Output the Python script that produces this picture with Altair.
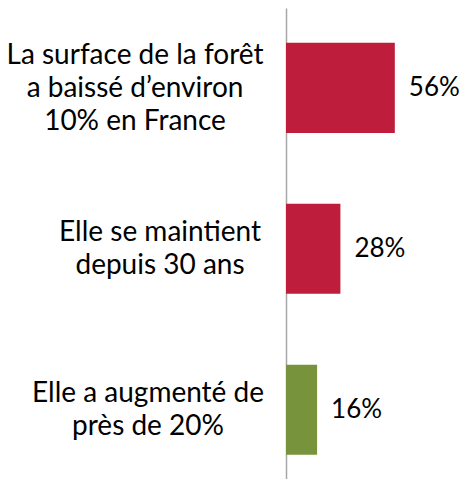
import altair as alt
import pandas as pd

categories = ["La surface de la forêt|a baissé d’environ|10% en France",
              "Elle se maintient|depuis 30 ans",
              "Elle a augmenté de|près de 20%"]
values = [56, 28, 16]
value_labels = ["56%", "28%", "16%"]
colors = ["#BE1E3C", "#BE1E3C", "#77933C"]
label_centers = [-151, -126, -138]  # horizontal centre of each label block relative to axis

df = pd.DataFrame({
    "cat": categories,
    "value": values,
    "label": value_labels,
    "color": colors,
})

FONT = "Lato"
FS = 28
LH = 33
y = alt.Y("cat:N", sort=categories, title=None,
          scale=alt.Scale(paddingInner=0.44, paddingOuter=0.183, align=0.59),
          axis=alt.Axis(labels=False, ticks=False, domain=True,
                        domainColor="#A6A6A6", domainWidth=1.5, grid=False))
x = alt.X("value:Q", title=None, scale=alt.Scale(domain=[0, 88]), axis=None)

bars = alt.Chart(df).mark_bar().encode(
    x=x, y=y, color=alt.Color("color:N", scale=None)
)
vals = alt.Chart(df).mark_text(align="left", baseline="middle", dx=14,
                               font=FONT, fontSize=26, color="#000000").encode(
    x=x, y=y, text="label:N"
)

layers = [bars, vals]
for cat, cx in zip(categories, label_centers):
    sub = df[df["cat"] == cat]
    n_lines = len(cat.split("|"))
    layers.append(
        alt.Chart(sub).mark_text(align="center", baseline="middle", lineBreak="|",
                                 lineHeight=LH, dy=-(n_lines - 1) * LH / 2 + 1,
                                 font=FONT, fontSize=FS, color="#000000").encode(
            y=y, x=alt.value(cx), text="cat:N"
        )
    )

chart = alt.layer(*layers).properties(
    width=171, height=471,
    autosize=alt.AutoSizeParams(type="none"),
    padding={"left": 278, "top": 0, "right": 2, "bottom": 0},
).configure_view(stroke=None)

chart.save("out.html", embed_options={"renderer": "svg", "actions": False})
